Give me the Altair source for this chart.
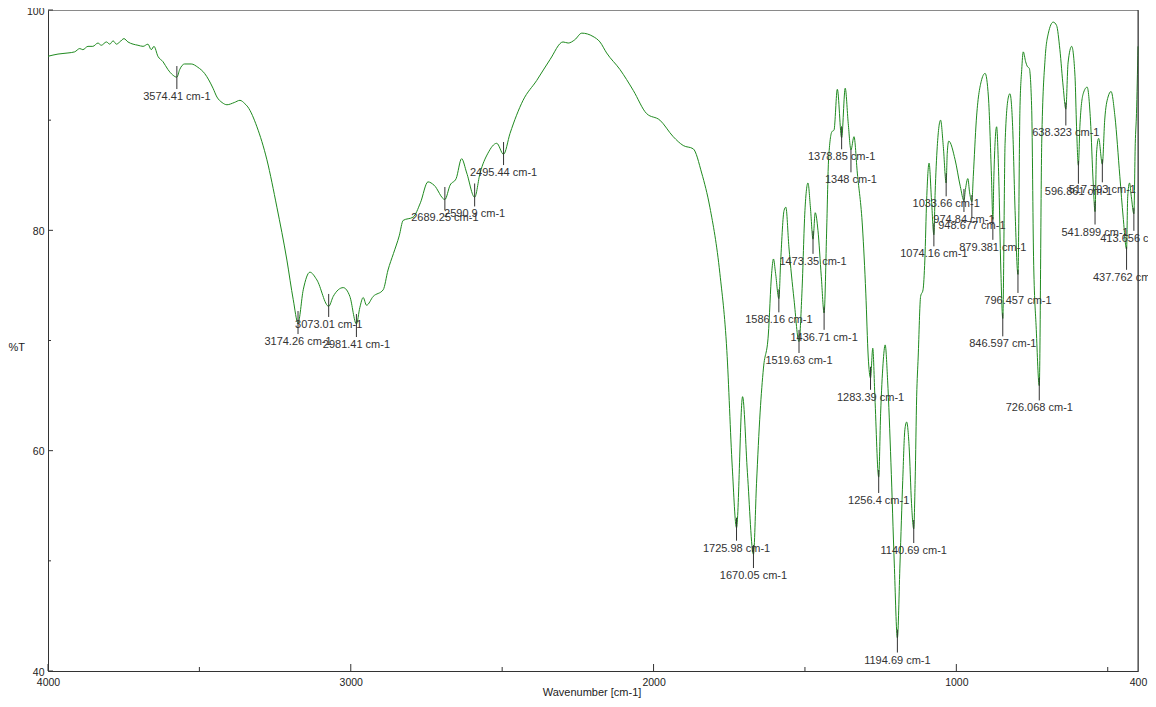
import altair as alt
import pandas as pd

# ---------------- data ----------------
WAVENUMBER = [
    4000, 3967, 3934, 3912, 3895, 3885, 3868, 3852, 3835, 3824, 3807, 3796, 3785, 3774, 3763, 3749,
    3736, 3719, 3703, 3686, 3670, 3659, 3650, 3637, 3620, 3604, 3588, 3574.41, 3565, 3549, 3527, 3505,
    3483, 3455, 3442, 3425, 3409, 3385, 3366, 3350, 3340, 3310, 3277, 3244, 3211, 3190, 3174.26, 3157,
    3135, 3112, 3073.01, 3058, 3025, 3003, 2981.41, 2970, 2959, 2948, 2926, 2893, 2877, 2859, 2840, 2827,
    2794, 2770, 2745, 2725, 2689.25, 2672, 2652, 2634, 2617, 2590.9, 2573, 2547, 2518, 2495.44, 2474, 2431,
    2386, 2342, 2299, 2282, 2260, 2237, 2200, 2177, 2155, 2111, 2067, 2023, 1979, 1935, 1902, 1869,
    1841, 1814, 1781, 1758, 1740, 1725.98, 1706, 1690, 1670.05, 1660, 1648, 1637, 1621, 1610, 1604, 1597,
    1586.16, 1580, 1569, 1563, 1553, 1536, 1519.63, 1510, 1500, 1490, 1482, 1473.35, 1466, 1457, 1446, 1436.71,
    1428, 1422, 1411, 1404, 1393, 1378.85, 1367, 1357, 1348, 1338, 1327, 1310, 1299, 1291, 1283.39, 1276,
    1269, 1256.4, 1250, 1242, 1235, 1227, 1216, 1205, 1194.69, 1186, 1177, 1170, 1164, 1156, 1148, 1140.69,
    1136, 1131, 1126, 1118, 1110, 1104, 1098, 1090, 1082, 1074.16, 1070, 1063, 1052, 1043, 1033.66, 1030,
    1025, 1004, 987, 974.84, 970, 962, 956, 948.677, 944, 934, 918, 905, 894, 884, 879.381, 876,
    867, 860, 853, 846.597, 839, 828, 823, 814, 806, 796.457, 790, 784, 779, 771, 766, 759,
    751, 745, 736, 726.068, 718, 707, 696, 680, 669, 658, 647, 638.323, 631, 619, 608, 603,
    596.861, 592, 581, 568, 557, 548, 541.899, 537, 530, 517.793, 510, 499, 489, 476, 460, 449,
    437.762, 434, 428, 422, 413.656, 409, 405, 400,
]
TRANSMITTANCE = [
    95.8, 96.0, 96.1, 96.2, 96.5, 96.4, 96.7, 96.7, 97.0, 96.8, 97.1, 96.9, 97.2, 96.9, 97.1, 97.4,
    97.1, 96.9, 96.8, 96.7, 96.9, 96.4, 96.7, 95.8, 95.3, 94.6, 94.1, 93.9, 94.6, 95.1, 95.1, 94.8,
    94.25, 92.9, 92.1, 91.6, 91.4, 91.6, 91.8, 91.5, 91.2, 89.4, 86.4, 82.1, 77.3, 73.7, 71.6, 74.6,
    76.2, 75.5, 73.1, 74.0, 74.8, 74.0, 71.5, 73.0, 73.9, 73.2, 74.0, 74.6, 76.4, 77.9, 79.5, 80.9,
    81.2, 82.5, 84.4, 84.1, 82.8, 84.1, 84.7, 86.5, 85.2, 83.0, 85.2, 87.0, 87.9, 86.9, 88.8, 91.8,
    93.6, 95.5, 97.1, 97.0, 97.3, 97.9, 97.6, 97.1, 96.1, 94.6, 92.7, 90.6, 90.0, 88.5, 87.7, 87.4,
    85.2, 82.1, 76.1, 69.1, 58.5, 53.0, 64.9, 58.0, 50.6, 57.0, 63.5, 67.5, 70.5, 76.1, 77.4, 76.1,
    73.8, 77.3, 81.8, 82.1, 78.5, 73.7, 69.9, 74.3, 81.8, 84.3, 82.1, 79.2, 81.6, 80.0, 75.8, 72.5,
    80.3, 86.4, 88.95, 89.1, 92.8, 88.4, 92.9, 89.7, 87.3, 88.5, 85.2, 80.3, 74.3, 68.5, 66.6, 69.3,
    64.9, 57.6, 63.4, 67.9, 69.6, 66.4, 58.9, 49.8, 43.0, 49.8, 57.3, 61.9, 62.6, 60.4, 55.2, 52.9,
    57.3, 64.9, 68.5, 74.0, 74.6, 77.3, 82.8, 86.1, 82.75, 79.6, 83.4, 87.6, 90.0, 87.6, 84.3, 87.0,
    88.1, 86.4, 84.0, 82.7, 83.7, 84.7, 83.4, 82.6, 84.9, 90.0, 93.5, 94.25, 92.1, 84.9, 81.0, 84.9,
    89.4, 84.9, 76.4, 72.0, 87.9, 92.1, 92.4, 89.4, 81.8, 76.0, 90.9, 94.6, 96.2, 95.3, 94.9, 94.7,
    90.9, 77.6, 71.0, 65.9, 87.9, 95.5, 97.9, 98.9, 98.6, 96.4, 93.0, 91.0, 95.2, 96.7, 93.95, 89.4,
    85.9, 89.4, 92.4, 93.0, 90.0, 84.3, 81.7, 87.0, 88.35, 86.0, 90.0, 92.1, 92.6, 90.3, 84.9, 81.2,
    78.3, 83.05, 84.3, 83.05, 81.5, 87.9, 90.6, 96.7,
]

PEAK_WN = [3574.41, 3174.26, 3073.01, 2981.41, 2689.25, 2590.9, 2495.44, 1725.98, 1670.05,
           1586.16, 1519.63, 1473.35, 1436.71, 1378.85, 1348, 1283.39, 1256.4, 1194.69,
           1140.69, 1074.16, 1033.66, 974.84, 948.677, 879.381, 846.597, 796.457, 726.068,
           638.323, 596.861, 541.899, 517.793, 437.762, 413.656]
PEAK_T = [93.87, 71.63, 73.18, 71.36, 82.89, 83.21, 86.97, 52.87, 50.39,
          73.60, 69.91, 78.91, 72.01, 88.40, 86.31, 66.57, 57.20, 42.72,
          52.66, 79.59, 84.13, 82.71, 82.16, 80.18, 71.42, 75.36, 65.60,
          90.56, 85.27, 81.57, 85.40, 77.46, 81.00]
PEAK_LABEL = ["3574.41 cm-1", "3174.26 cm-1", "3073.01 cm-1", "2981.41 cm-1", "2689.25 cm-1",
              "2590.9 cm-1", "2495.44 cm-1", "1725.98 cm-1", "1670.05 cm-1", "1586.16 cm-1",
              "1519.63 cm-1", "1473.35 cm-1", "1436.71 cm-1", "1378.85 cm-1", "1348 cm-1",
              "1283.39 cm-1", "1256.4 cm-1", "1194.69 cm-1", "1140.69 cm-1", "1074.16 cm-1",
              "1033.66 cm-1", "974.84 cm-1", "948.677 cm-1", "879.381 cm-1", "846.597 cm-1",
              "796.457 cm-1", "726.068 cm-1", "638.323 cm-1", "596.861 cm-1", "541.899 cm-1",
              "517.793 cm-1", "437.762 cm-1", "413.656 cm-1"]

X_LABELS = [4000, 3000, 2000, 1000, 400]
X_MAJOR_TICKS = [4000, 3000, 2000, 1000]
X_MINOR_TICKS = [3500, 2500, 1500, 500]
Y_LABELS = [100, 80, 60, 40]
Y_MAJOR_TICKS = [100, 80, 60, 40]
Y_MINOR_TICKS = [90, 70, 50]
X_DOMAIN = [400, 4000]
Y_DOMAIN = [40, 100]

# ---------------- layout / style ----------------
W, H = 1090, 661
FONT = "Liberation Sans"
LINE_COLOR = "#1f8a1f"
INK = "#333333"
PX_X = (X_DOMAIN[1] - X_DOMAIN[0]) / W   # data units per pixel
PX_Y = (Y_DOMAIN[1] - Y_DOMAIN[0]) / H

spec_df = pd.DataFrame({"wn": WAVENUMBER, "T": TRANSMITTANCE})
peaks_df = pd.DataFrame({"wn": PEAK_WN, "T": PEAK_T, "label": PEAK_LABEL})

xs = alt.Scale(domain=X_DOMAIN, reverse=True, nice=False, zero=False)
ys = alt.Scale(domain=Y_DOMAIN, nice=False, zero=False)

x_axis = alt.Axis(values=X_LABELS, format="d", ticks=False, tickSize=0, grid=False,
                  labelPadding=6, labelFlush=False, labelOverlap=False,
                  labelFont=FONT, labelFontSize=10.5, labelColor="#222222",
                  domainColor=INK, domainWidth=1,
                  title="Wavenumber [cm-1]", titleFont=FONT, titleFontSize=11,
                  titleFontWeight="normal", titleColor="#222222",
                  titleX=543.5, titleY=21, titleBaseline="middle", titleAlign="center")
y_axis = alt.Axis(values=Y_LABELS, format="d", ticks=False, tickSize=0, grid=False,
                  labelPadding=4, labelOffset=1, labelFlush=False, labelOverlap=False,
                  labelFont=FONT, labelFontSize=10.5, labelColor="#222222",
                  domainColor=INK, domainWidth=1,
                  title="%T", titleFont=FONT, titleFontSize=11, titleFontWeight="normal",
                  titleColor="#222222", titleAngle=0, titleAlign="left",
                  titleBaseline="middle", titleX=-40, titleY=337)

line = alt.Chart(spec_df).mark_line(color=LINE_COLOR, strokeWidth=1, interpolate="monotone").encode(
    x=alt.X("wn:Q", scale=xs, axis=x_axis, title="Wavenumber [cm-1]"),
    y=alt.Y("T:Q", scale=ys, axis=y_axis, title="%T"),
)

peak_ticks = alt.Chart(peaks_df).transform_calculate(
    top=f"datum.T + {11.5 * PX_Y}", bot=f"datum.T - {11.5 * PX_Y}"
).mark_rule(color=INK, strokeWidth=1).encode(
    x=alt.X("wn:Q", scale=xs),
    y=alt.Y("top:Q", scale=ys),
    y2="bot:Q",
)

peak_text = alt.Chart(peaks_df).transform_calculate(
    ty=f"datum.T - {19.5 * PX_Y}"
).mark_text(font=FONT, fontSize=11, color=INK, align="center", baseline="middle").encode(
    x=alt.X("wn:Q", scale=xs),
    y=alt.Y("ty:Q", scale=ys),
    text="label:N",
)


def x_ticks(values, length_px):
    df = pd.DataFrame({"wn": values})
    return alt.Chart(df).transform_calculate(
        a=f"{Y_DOMAIN[0]}", b=f"{Y_DOMAIN[0]} + {length_px * PX_Y}"
    ).mark_rule(color=INK, strokeWidth=1).encode(
        x=alt.X("wn:Q", scale=xs),
        y=alt.Y("a:Q", scale=ys),
        y2="b:Q",
    )


def y_ticks(values, length_px):
    df = pd.DataFrame({"T": values})
    return alt.Chart(df).transform_calculate(
        a=f"{X_DOMAIN[1]}", b=f"{X_DOMAIN[1]} - {length_px * PX_X}"
    ).mark_rule(color=INK, strokeWidth=1).encode(
        y=alt.Y("T:Q", scale=ys),
        x=alt.X("a:Q", scale=xs),
        x2="b:Q",
    )


right_border = alt.Chart(pd.DataFrame({"wn": [X_DOMAIN[0]]})).transform_calculate(
    a=f"{Y_DOMAIN[0]}", b=f"{Y_DOMAIN[1]}"
).mark_rule(color=INK, strokeWidth=1).encode(
    x=alt.X("wn:Q", scale=xs),
    y=alt.Y("a:Q", scale=ys),
    y2="b:Q",
)

chart = alt.layer(
    line, peak_ticks, peak_text,
    x_ticks(X_MAJOR_TICKS, 7), x_ticks(X_MINOR_TICKS, 4),
    y_ticks(Y_MAJOR_TICKS, 5), y_ticks(Y_MINOR_TICKS, 3),
    right_border,
).properties(
    width=W, height=H,
    autosize=alt.AutoSizeParams(type="none"),
    padding={"left": 40, "top": 2, "right": 10, "bottom": 27},
    background="white",
).configure_view(stroke="#8a8a8a", strokeWidth=1)

chart.save("out.html", embed_options={"renderer": "svg", "actions": False})
